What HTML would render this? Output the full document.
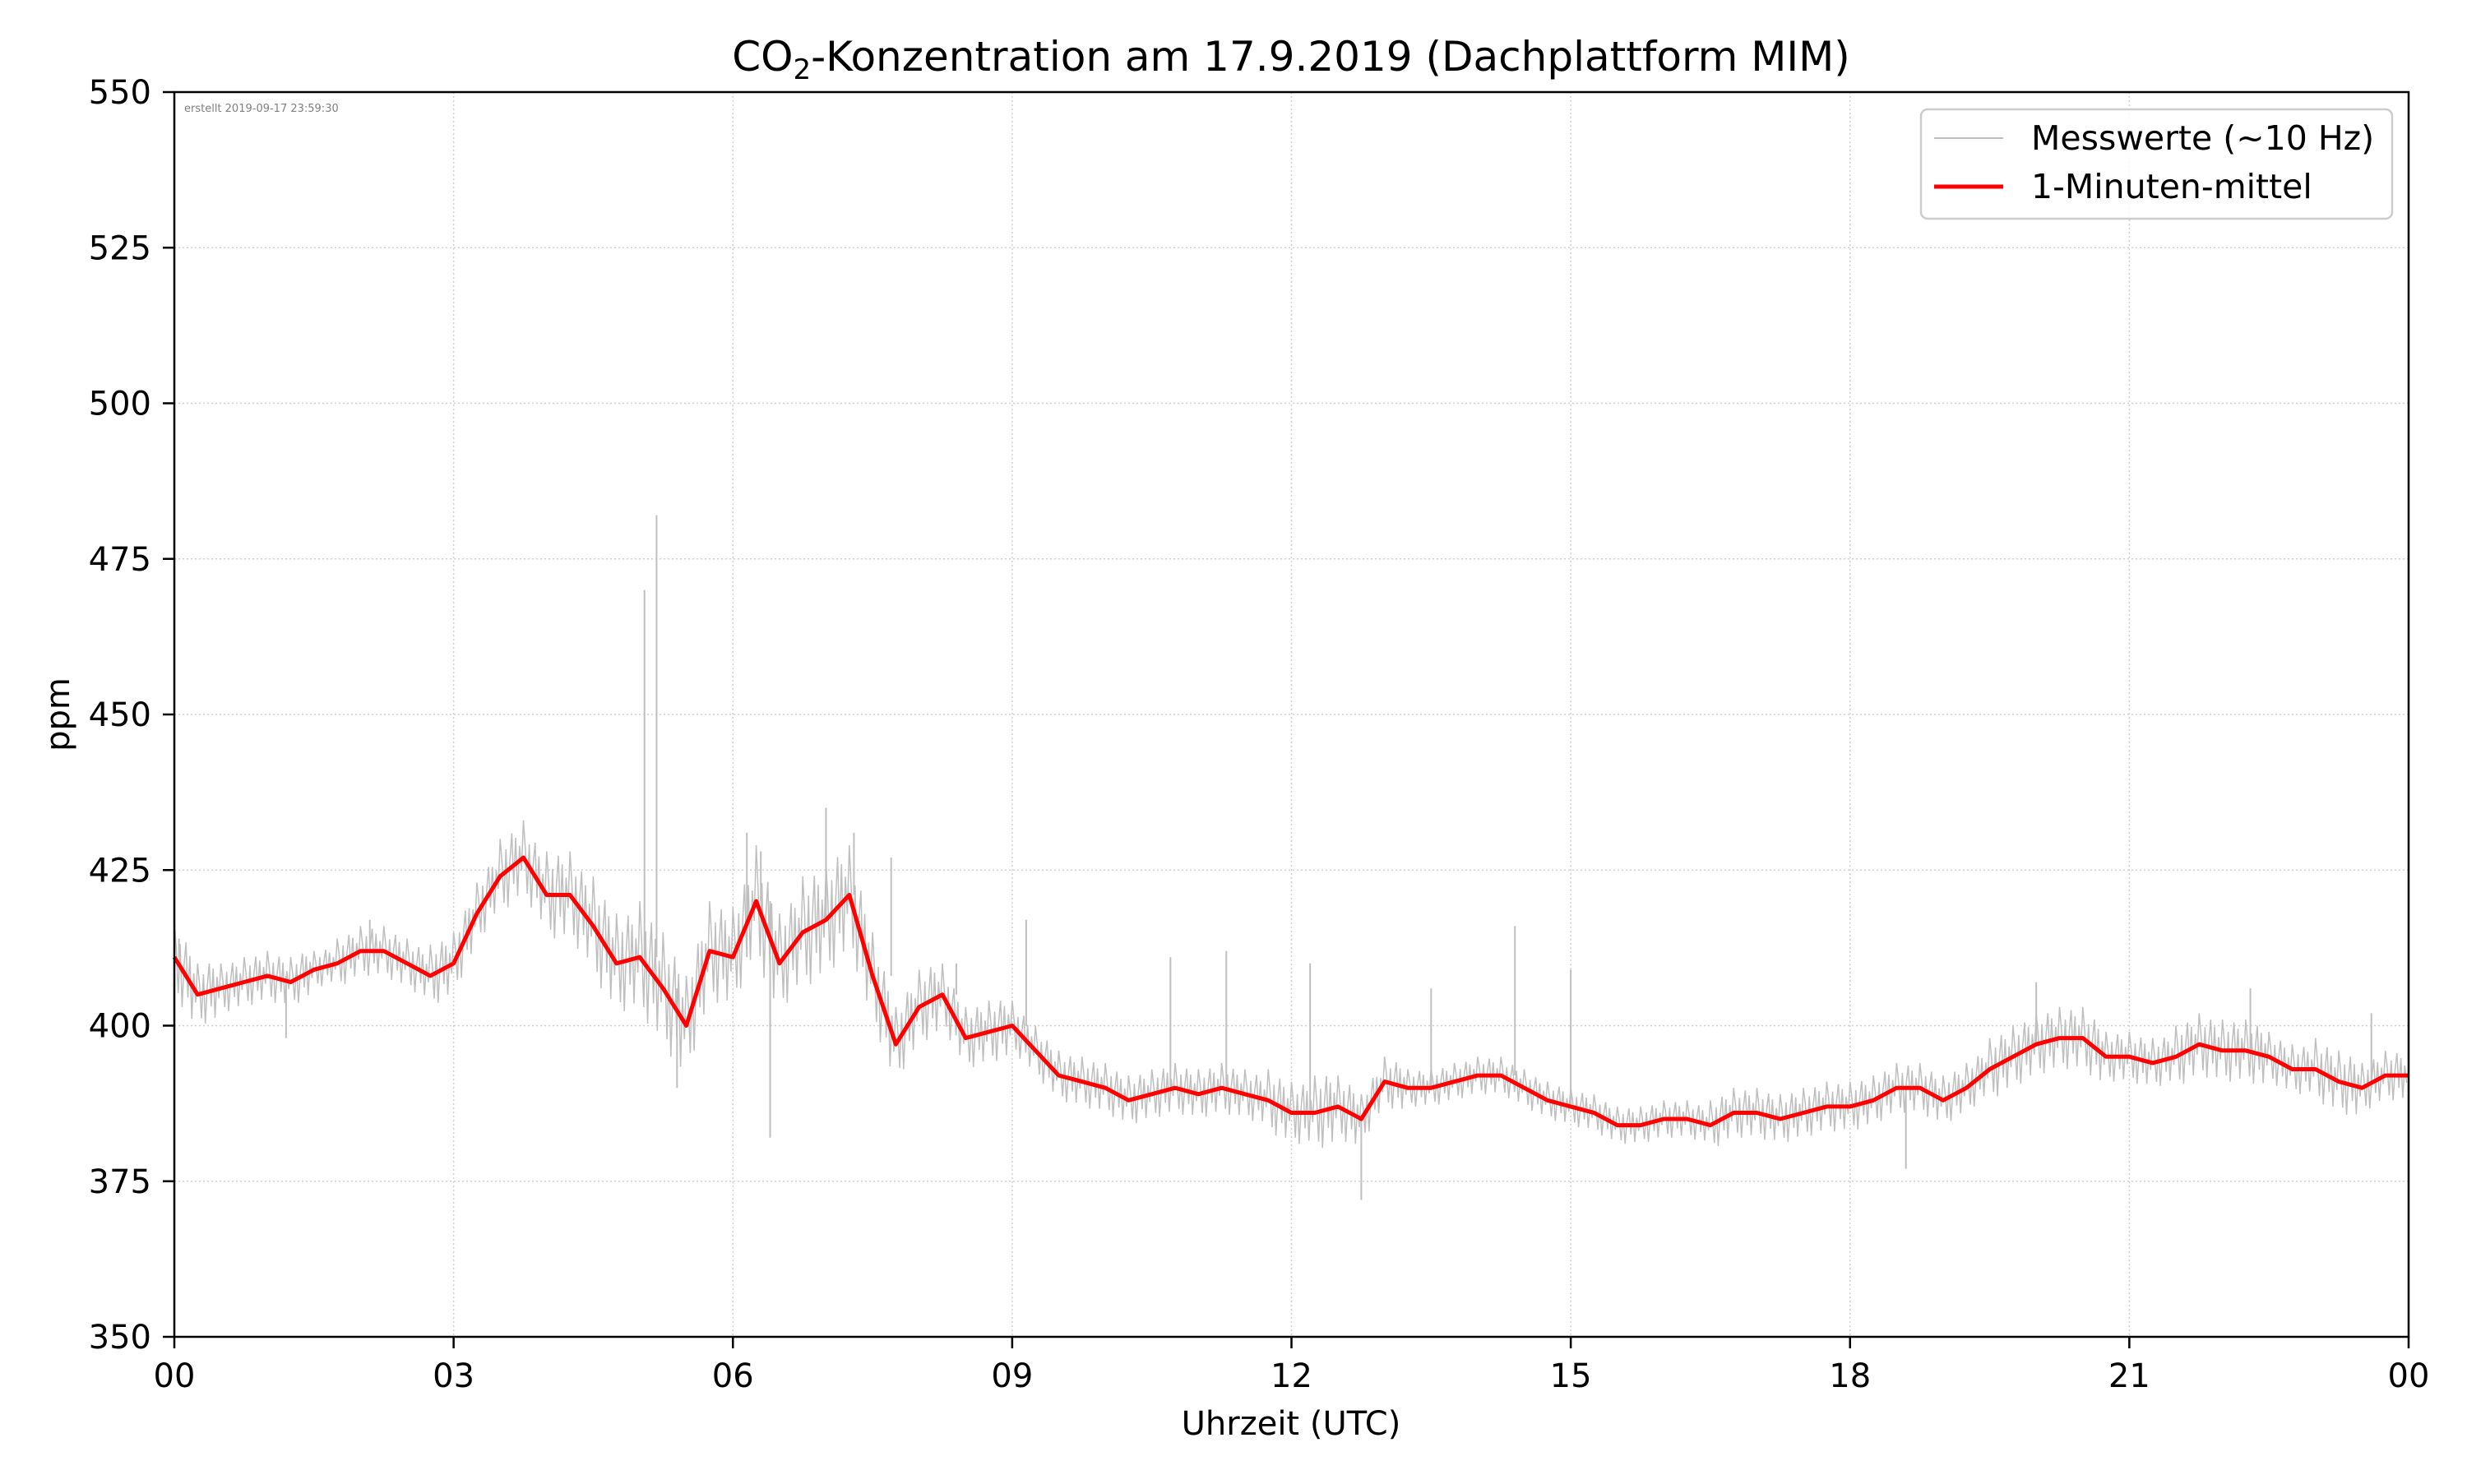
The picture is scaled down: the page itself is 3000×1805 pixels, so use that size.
<!DOCTYPE html>
<html><head><meta charset="utf-8"><style>
html,body{margin:0;padding:0;background:#fff}
svg text{font-family:"DejaVu Sans","Liberation Sans",sans-serif}
</style></head><body>
<svg id="chart" width="3000" height="1800" viewBox="0 0 3000 1800" xmlns="http://www.w3.org/2000/svg">
<rect width="3000" height="1800" fill="#fff"/>
<g id="grid"></g>
<g id="raw"></g>
<g id="mean"></g>
<rect x="212" y="112" width="2717" height="1514" fill="none" stroke="#000" stroke-width="2.5"/>
<g id="ticks"></g>
<text x="1570" y="86" font-size="50" text-anchor="middle">CO<tspan font-size="34" dy="10">2</tspan><tspan dy="-10">-Konzentration am 17.9.2019 (Dachplattform MIM)</tspan></text>
<text x="224" y="136" font-size="13" fill="#808080">erstellt 2019-09-17 23:59:30</text>
<text x="1570" y="1745" font-size="40" text-anchor="middle">Uhrzeit (UTC)</text>
<text x="0" y="0" font-size="40" text-anchor="middle" transform="translate(84,869) rotate(-90)">ppm</text>
<g>
<rect x="2336" y="133" width="573" height="133" rx="8" fill="#fff" fill-opacity="0.85" stroke="#cccccc" stroke-width="2.5"/>
<line x1="2352" y1="168" x2="2436" y2="168" stroke="#bfbfbf" stroke-width="2"/>
<text x="2470" y="182" font-size="41">Messwerte (~10 Hz)</text>
<line x1="2352" y1="227" x2="2436" y2="227" stroke="#ff0000" stroke-width="5"/>
<text x="2470" y="241" font-size="41">1-Minuten-mittel</text>
</g>
</svg>
<script>
const hours = [];
for (let i = 0; i <= 96; i++) hours.push(i * 0.25);
const meanPpm = [411,405,406,407,408,407,409,410,412,412,410,408,410,418,424,427,421,421,416,410,411,406,400,412,411,420,410,415,417,421,408,397,403,405,398,399,400,396,392,391,390,388,389,390,389,390,389,388,386,386,387,385,391,390,390,391,392,392,390,388,387,386,384,384,385,385,384,386,386,385,386,387,387,388,390,390,388,390,393,395,397,398,398,395,395,394,395,397,396,396,395,393,393,391,390,392,392];
const rawSpread = [6,5,4,4,4,4,3,4,4,4,4,5,5,5,6,6,7,7,8,8,9,9,8,8,8,9,8,9,9,8,7,6,6,5,5,5,4,4,4,4,4,4,4,4,4,4,4,5,5,6,5,4,4,3,3,3,3,3,3,3,3,3,3,3,3,3,4,4,4,4,4,4,4,4,4,4,4,4,5,5,5,5,5,4,4,4,5,5,5,5,4,4,5,5,4,4,4];
const spikeHours = [0.05,1.2,2.1,5.05,5.18,5.4,6.15,6.3,6.4,7.0,7.3,7.7,8.4,9.15,10.7,11.3,12.2,12.75,13.5,14.4,15.0,18.6,20.0,22.3,23.6];
const spikePpm   = [414,398,417,470,482,390,431,428,382,435,431,427,410,417,411,412,410,372,406,416,409,377,407,406,402];
const yTicks = [350,375,400,425,450,475,500,525,550];
const xTicks = [0,3,6,9,12,15,18,21,24];
const xTickLabels = ["00","03","06","09","12","15","18","21","00"];

const L=212,R=2929,T=112,B=1626,NS="http://www.w3.org/2000/svg";
const xs = h => L + (h/24)*(R-L);
const ys = v => B - (v-350)/200*(B-T);
function mk(tag, attrs, parent){const e=document.createElementNS(NS,tag);for(const k in attrs)e.setAttribute(k,attrs[k]);parent.appendChild(e);return e;}
const grid=document.getElementById('grid'), ticks=document.getElementById('ticks');
yTicks.forEach(v=>{
  const g=mk('line',{x1:L,x2:R,y1:ys(v),y2:ys(v),stroke:'#d0d0d0','stroke-width':1.5,'stroke-dasharray':'2,3'},grid);
  
  
  const t=mk('line',{x1:L-14,x2:L,y1:ys(v),y2:ys(v),stroke:'#000','stroke-width':2.5},ticks);
  
  
  const lb=mk('text',{x:L-28,y:ys(v)+14,'font-size':40,'text-anchor':'end'},ticks);
  lb.textContent=v;
  
  
});
xTicks.forEach((h,i)=>{
  const g=mk('line',{x1:xs(h),x2:xs(h),y1:T,y2:B,stroke:'#d0d0d0','stroke-width':1.5,'stroke-dasharray':'2,3'},grid);
  
  
  const t=mk('line',{x1:xs(h),x2:xs(h),y1:B,y2:B+14,stroke:'#000','stroke-width':2.5},ticks);
  
  
  const lb=mk('text',{x:xs(h),y:B+61,'font-size':40,'text-anchor':'middle'},ticks);
  lb.textContent=xTickLabels[i];
  
  
});
const zig=[1,0.3,-0.8,0.6,-1,0.2,0.9,-0.5,0.7,-0.9,0.4,-0.3];
let pts=[];
for(let i=0;i<meanPpm.length-1;i++){
  for(let k=0;k<zig.length;k++){
    const f=k/zig.length, h=hours[i]+0.25*f;
    const m=meanPpm[i]+(meanPpm[i+1]-meanPpm[i])*f;
    const s=rawSpread[i]||4;
    pts.push(xs(h).toFixed(1)+','+ys(m+s*zig[k]).toFixed(1));
  }
}
const rawG=document.getElementById('raw');
const rp=mk('polyline',{points:pts.join(' '),fill:'none',stroke:'#bfbfbf','stroke-width':1.5},rawG);


spikeHours.forEach((h,i)=>{
  const idx=Math.min(95,Math.floor(h/0.25));
  const s=mk('line',{x1:xs(h),x2:xs(h),y1:ys(meanPpm[idx]),y2:ys(spikePpm[i]),stroke:'#bfbfbf','stroke-width':2},rawG);
  
  
});
const mp=mk('polyline',{points:meanPpm.map((v,i)=>xs(hours[i]).toFixed(1)+','+ys(v).toFixed(1)).join(' '),fill:'none',stroke:'#ff0000','stroke-width':5,'stroke-linejoin':'round'},document.getElementById('mean'));


</script>
</body></html>
